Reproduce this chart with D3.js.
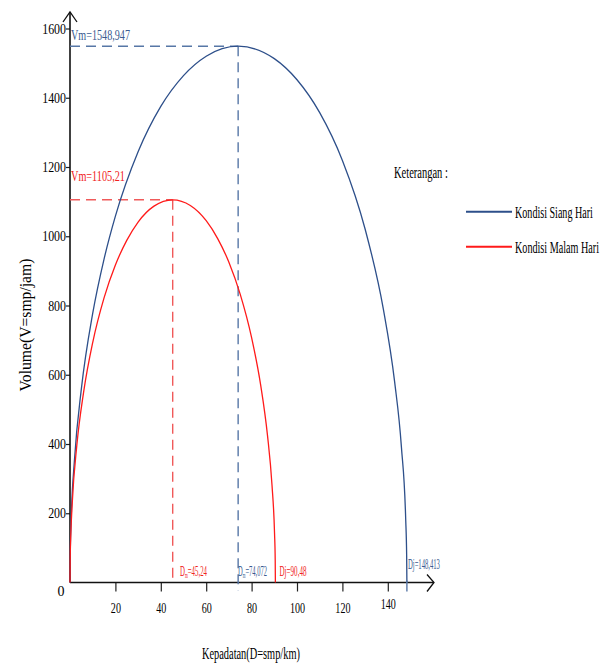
<!DOCTYPE html>
<html><head><meta charset="utf-8">
<script src="https://cdn.jsdelivr.net/npm/d3@7"></script>
<style>body{margin:0;background:#fff}svg{display:block}</style>
</head><body><svg id="c" width="612" height="666"></svg>
<script>
// ---- data ----
const siangD = [0,0.1,0.5,2,5,10,15,20,30,40,50,60,74.072,90,100,110,120,130,138,143,146,147.9,148.3,148.413];
const siangV = [0,80,180,357,559,777,934,1058,1244,1375,1464,1520,1548.947,1513,1452,1357,1219,1021,791,580,391,180,80,0];
const malamD = [0,0.08,0.3,1,3,6,10,15,20,25,30,37,45.24,53,60,65,70,75,80,84,87,89,90.1,90.4,90.48];
const malamV = [0,66,127,231,396,550,693,822,917,988,1041,1087,1105.21,1089,1045,994,925,832,707,570,425,280,143,66,0];
const seriesNames = ["Kondisi Siang Hari","Kondisi Malam Hari"];
const siangDm = 74.072, siangVm = 1548.947, siangDj = 148.413;
const malamDm = 45.24, malamVm = 1105.21, malamDj = 90.48;
const xTicks = [20,40,60,80,100,120,140];
const yTicks = [200,400,600,800,1000,1200,1400,1600];

const blue = "#2d4f8a", blueDash = "#5777a6", blueText = "#3a5a8f";
const red = "#ff1a1a", redDash = "#f05a5a", redText = "#f02020";
const FONT = "Liberation Serif, Times New Roman, serif";

const svg = d3.select("#c");
const x = d3.scaleLinear().domain([0,160]).range([70, 433.2]);
const y = d3.scaleLinear().domain([0,1600]).range([582.5, 28.5]);
const fmt = v => String(v).replace(".", ",");

function squeeze(sel, w, ax, ay, anchor){
  sel.each(function(){
    const n = this.getComputedTextLength();
    const s = n > 0 ? w / n : 1;
    d3.select(this).attr("x",0).attr("y",0).attr("text-anchor",anchor||"start")
      .attr("transform",`translate(${ax},${ay}) scale(${s},1)`);
  });
}

// axes
const gx = svg.append("g").attr("transform", `translate(0,${y(0)})`)
  .call(d3.axisBottom(x).tickValues(xTicks).tickFormat(d3.format("d")).tickSize(9).tickSizeOuter(0));
gx.select(".domain").remove();
gx.selectAll(".tick line").attr("stroke","#222").attr("stroke-width",1.2);
gx.selectAll(".tick text").attr("font-family",FONT).attr("font-size",14).attr("fill","#000")
  .attr("y",0).attr("dy",0)
  .attr("transform", d => `translate(0,${d===140?26:30}) scale(0.72,1)`);

const gy = svg.append("g").attr("transform", `translate(${x(0)},0)`)
  .call(d3.axisLeft(y).tickValues(yTicks).tickFormat(d3.format("d")).tickSize(4).tickSizeOuter(0));
gy.select(".domain").remove();
gy.selectAll(".tick line").attr("stroke","#222").attr("stroke-width",1.2);
gy.selectAll(".tick text").attr("font-family",FONT).attr("font-size",14).attr("fill","#000")
  .attr("x",0).attr("dy","0.33em")
  .attr("transform","translate(-4,0) scale(0.85,1)");

svg.append("text").attr("x",61).attr("y",596).attr("text-anchor","middle")
  .attr("font-family",FONT).attr("font-size",14).attr("fill","#000").text("0");

// axis lines with arrows
svg.append("line").attr("x1",x(0)).attr("x2",x(0)).attr("y1",y(0)).attr("y2",12)
  .attr("stroke","#111").attr("stroke-width",1.6);
svg.append("path").attr("d",`M${x(0)-7},22 L${x(0)},12 L${x(0)+7},22`)
  .attr("fill","none").attr("stroke","#111").attr("stroke-width",1.3);
svg.append("line").attr("x1",x(0)).attr("x2",434).attr("y1",y(0)).attr("y2",y(0))
  .attr("stroke","#111").attr("stroke-width",1.6);
svg.append("path").attr("d",`M427,${y(0)-8} L434,${y(0)} L427,${y(0)+9}`)
  .attr("fill","none").attr("stroke","#111").attr("stroke-width",1.3);

// dashed reference lines
function dashes(Dm, Vm, col, extend){
  svg.append("line").attr("x1",x(0)).attr("x2",x(Dm)).attr("y1",y(Vm)).attr("y2",y(Vm))
    .attr("stroke",col).attr("stroke-width",1.4).attr("stroke-dasharray","10,6");
  svg.append("line").attr("x1",x(Dm)).attr("x2",x(Dm)).attr("y1",y(Vm)).attr("y2",y(0)+extend)
    .attr("stroke",col).attr("stroke-width",1.4).attr("stroke-dasharray","10,6");
}
dashes(siangDm, siangVm, blueDash, 8);
dashes(malamDm, malamVm, redDash, 0);

// curves
const line = d3.line().x(d=>x(d[0])).y(d=>y(d[1])).curve(d3.curveMonotoneX);
svg.append("path").datum(d3.zip(siangD, siangV)).attr("d",line)
  .attr("fill","none").attr("stroke",blue).attr("stroke-width",1.3);
svg.append("path").datum(d3.zip(malamD, malamV)).attr("d",line)
  .attr("fill","none").attr("stroke",red).attr("stroke-width",1.3);
svg.append("line").attr("x1",x(siangDj)).attr("x2",x(siangDj)).attr("y1",y(0)-2).attr("y2",y(0)+9)
  .attr("stroke",blueDash).attr("stroke-width",1.4);

// labels
function label(txt, xx, yy, col, size, w, anchor){
  const t = svg.append("text").attr("fill",col)
    .attr("font-family",FONT).attr("font-size",size).text(txt);
  squeeze(t, w, xx, yy, anchor);
  return t;
}
label("Vm=" + fmt(siangVm), 71, 39.5, blueText, 15, 59);
label("Vm=" + fmt(malamVm), 71, 181, redText, 15, 54);

function dLabel(sub, val, xx, yy, col, w){
  const t = svg.append("text").attr("fill",col)
    .attr("font-family",FONT).attr("font-size",15);
  t.append("tspan").text("D");
  t.append("tspan").attr("font-size",8).attr("dy",2).text(sub);
  t.append("tspan").attr("dy",-2).text("=" + fmt(val));
  squeeze(t, w, xx, yy);
}
dLabel("m", malamDm, 180, 576, redText, 27);
dLabel("m", siangDm, 238, 576, blueText, 29);
label("Dj=" + fmt(malamDj), 279.5, 576, redText, 15, 27);
label("Dj=" + fmt(siangDj), 408, 568.5, blueText, 14, 32);

// axis titles
const yt = svg.append("g").attr("transform","translate(31,325) rotate(-90)");
const ytt = yt.append("text").attr("font-family",FONT).attr("font-size",17).attr("fill","#000")
  .text("Volume(V=smp/jam)");
ytt.each(function(){
  const n = this.getComputedTextLength();
  d3.select(this).attr("text-anchor","middle").attr("transform",`scale(${133/n},1)`);
});
label("Kepadatan(D=smp/km)", 202, 659, "#000", 16, 98);

// legend
label("Keterangan :", 394, 178, "#000", 16, 54);
const legCols = [blue, red];
const legW = [78, 84];
seriesNames.forEach((n,i)=>{
  const yy = 211.7 + i*35;
  svg.append("line").attr("x1",466).attr("x2",512).attr("y1",yy).attr("y2",yy)
    .attr("stroke",legCols[i]).attr("stroke-width",2);
  label(n, 515, yy+6, "#000", 17, legW[i]);
});
</script></body></html>
